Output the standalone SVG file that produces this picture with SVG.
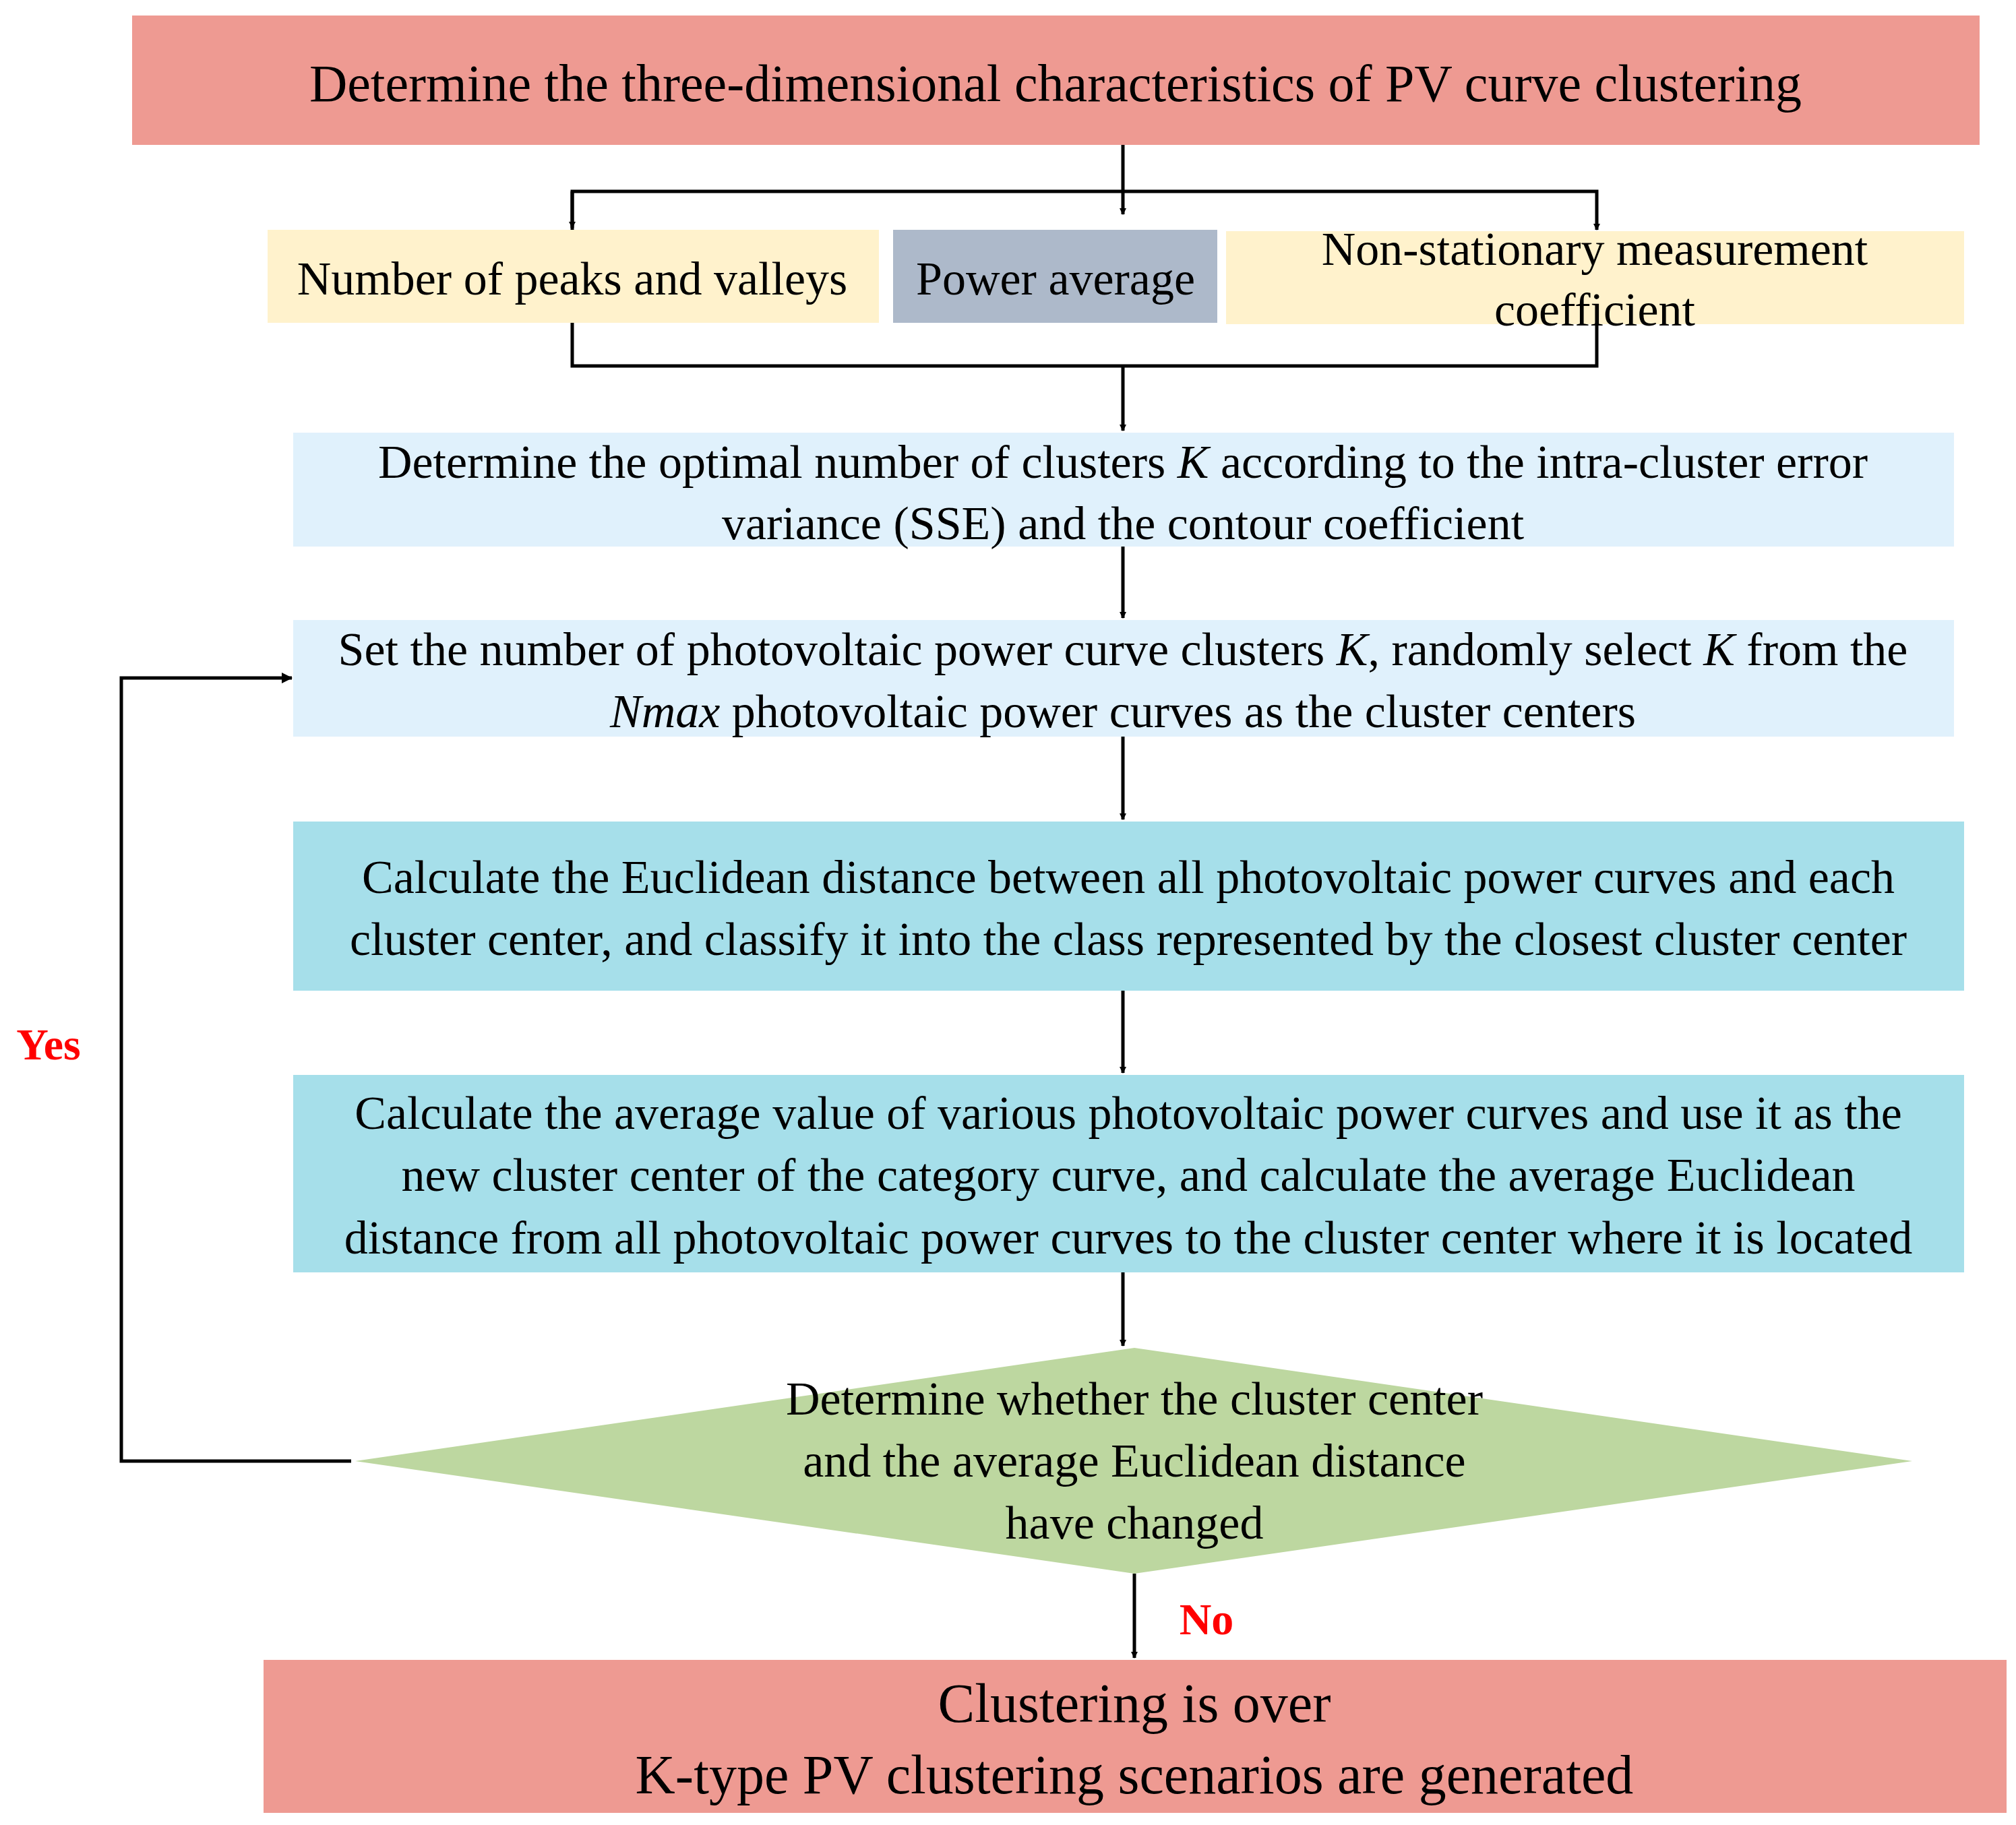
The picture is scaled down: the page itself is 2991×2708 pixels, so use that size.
<svg xmlns="http://www.w3.org/2000/svg" width="2991" height="2708" viewBox="0 0 2991 2708">
<style>
text{font-family:"Liberation Serif","Times New Roman",serif;fill:#000;text-anchor:middle}
.t{font-size:70px}
.l{stroke:#000;stroke-width:5;fill:none}
.yn{fill:#f00;font-weight:bold;font-size:66px}
</style>
<defs><marker id="a" markerWidth="10" markerHeight="10" refX="9" refY="5" orient="auto" markerUnits="userSpaceOnUse" viewBox="0 0 10 10"><path d="M0,0L10,5L0,10z" fill="#000"/></marker>
<marker id="b" markerWidth="16" markerHeight="16" refX="15" refY="8" orient="auto" markerUnits="userSpaceOnUse" viewBox="0 0 16 16"><path d="M0,0L16,8L0,16z" fill="#000"/></marker></defs>
<rect width="2991" height="2708" fill="#fff"/>
<g id="n1"><rect x="196" y="23" width="2741" height="192" fill="#ee9a92"/><text x="1566" y="150" style="font-size:78px">Determine the three-dimensional characteristics of PV curve clustering</text></g>
<g id="n2"><rect x="397" y="341" width="907" height="138" fill="#fff2cc"/><text class="t" x="849" y="437">Number of peaks and valleys</text></g>
<g id="n3"><rect x="1325" y="341" width="481" height="138" fill="#adb9ca"/><text class="t" x="1566" y="437">Power average</text></g>
<g id="n4"><rect x="1819" y="343" width="1095" height="138" fill="#fff2cc"/><text class="t" x="2366" y="393">Non-stationary measurement</text><text class="t" x="2366" y="483">coefficient</text></g>
<g id="n5"><rect x="435" y="642" width="2464" height="169" fill="#e0f1fc"/><text class="t" x="1666" y="709">Determine the optimal number of clusters <tspan font-style="italic">K</tspan> according to the intra-cluster error</text><text class="t" x="1666" y="800">variance (SSE) and the contour coefficient</text></g>
<g id="n6"><rect x="435" y="920" width="2464" height="173" fill="#e0f1fc"/><text class="t" x="1666" y="987">Set the number of photovoltaic power curve clusters <tspan font-style="italic">K</tspan>, randomly select <tspan font-style="italic">K</tspan> from the</text><text class="t" x="1666" y="1079"><tspan font-style="italic">Nmax</tspan> photovoltaic power curves as the cluster centers</text></g>
<g id="n7"><rect x="435" y="1219" width="2479" height="251" fill="#a6dfea"/><text class="t" x="1674" y="1325">Calculate the Euclidean distance between all photovoltaic power curves and each</text><text class="t" x="1674" y="1417">cluster center, and classify it into the class represented by the closest cluster center</text></g>
<g id="n8"><rect x="435" y="1595" width="2479" height="293" fill="#a6dfea"/><text class="t" x="1674" y="1675">Calculate the average value of various photovoltaic power curves and use it as the</text><text class="t" x="1674" y="1767">new cluster center of the category curve, and calculate the average Euclidean</text><text class="t" x="1674" y="1860">distance from all photovoltaic power curves to the cluster center where it is located</text></g>
<g id="n9"><polygon points="1683,2000 2837,2168 1683,2335 527,2168" fill="#bdd7a0"/><text class="t" x="1683" y="2099">Determine whether the cluster center</text><text class="t" x="1683" y="2191">and the average Euclidean distance</text><text class="t" x="1683" y="2283">have changed</text></g>
<g id="n10"><rect x="391" y="2463" width="2586" height="227" fill="#ee9a92"/><text x="1683" y="2555" style="font-size:82px">Clustering is over</text><text x="1683" y="2661" style="font-size:82px">K-type PV clustering scenarios are generated</text></g>
<g id="connectors">
<path class="l" d="M1666,215V318" marker-end="url(#a)"/>
<path class="l" d="M849,341V284H2369V341" marker-end="url(#a)"/>
<path class="l" d="M849,284V338" marker-end="url(#a)"/>
<path class="l" d="M849,479V543H2369V479"/>
<path class="l" d="M1666,543V639" marker-end="url(#a)"/>
<path class="l" d="M1666,811V917" marker-end="url(#a)"/>
<path class="l" d="M1666,1093V1216" marker-end="url(#a)"/>
<path class="l" d="M1666,1470V1592" marker-end="url(#a)"/>
<path class="l" d="M1666,1888V1997" marker-end="url(#a)"/>
<path class="l" d="M1683,2335V2460" marker-end="url(#a)"/>
<path class="l" d="M521,2168H180V1006H433" marker-end="url(#b)"/>
<text class="yn" x="72" y="1572">Yes</text>
<text class="yn" x="1790" y="2425">No</text>
</g>
</svg>
